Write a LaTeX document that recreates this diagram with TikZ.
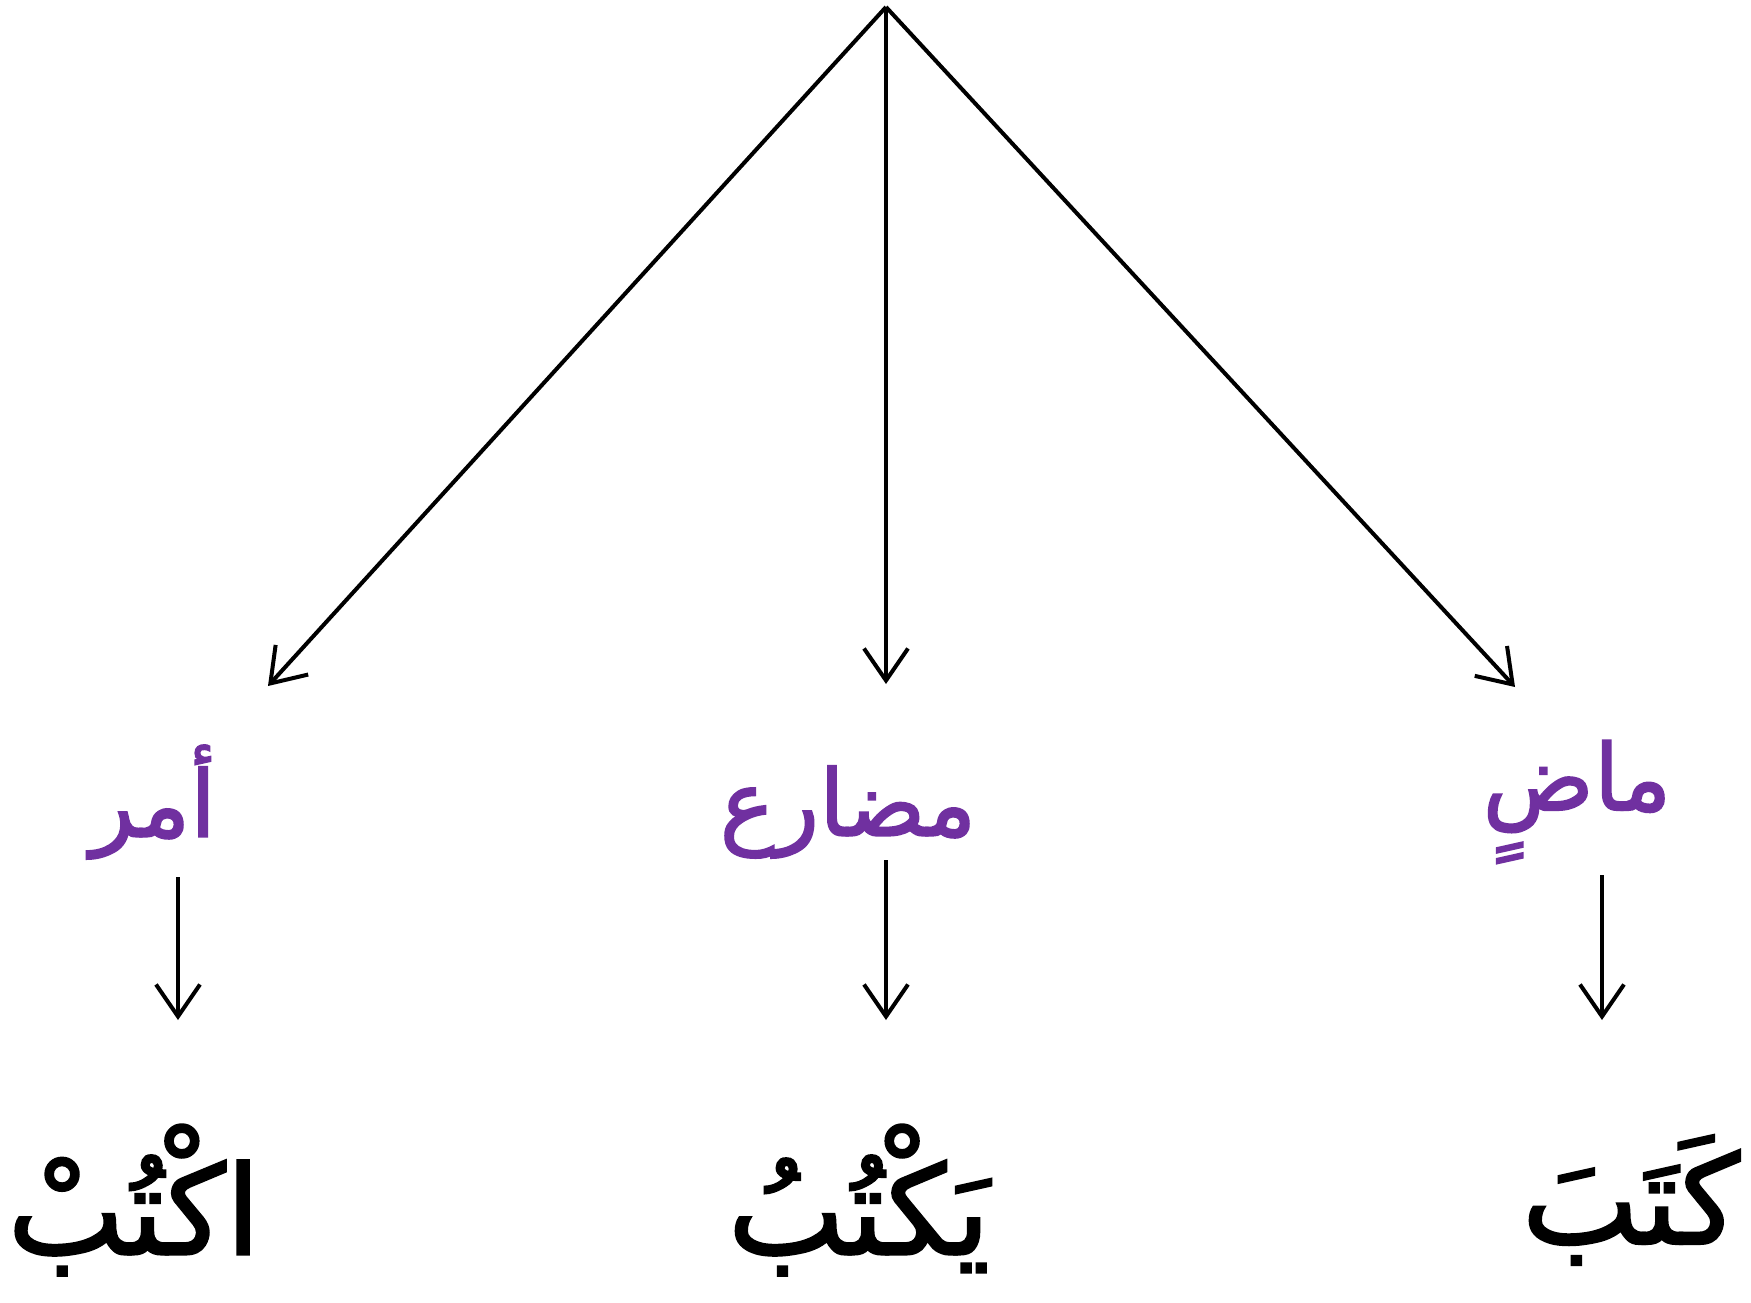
\documentclass[tikz,border=0pt]{standalone}
\usepackage{fontspec}
\usetikzlibrary{arrows.meta}
\TeXXeTstate=1
\newfontfamily\arabicfont[Script=Arabic]{DejaVu Sans}
\newfontfamily\arabicheavy[Script=Arabic,FakeBold=1.8]{DejaVu Sans}
\definecolor{labpurple}{HTML}{7030A0}
\tikzset{
  conn/.style={line width=2pt, -{Straight Barb[length=16pt,width=22pt,line width=2pt]}},
  catlabel/.style={font=\arabicheavy\fontsize{46}{50}\selectfont, text=labpurple, inner sep=0pt},
  verbword/.style={font=\arabicheavy\fontsize{62}{70}\selectfont, text=black, inner sep=0pt}
}
\begin{document}
\begin{tikzpicture}[x=0.5pt,y=-0.5pt]
\useasboundingbox (0,0) rectangle (1751,1302);
\fill[white] (0,0) rectangle (1751,1302);
% apex and big arrows
\coordinate (apex) at (886,7);
\coordinate (tipL) at (268,686);
\coordinate (tipM) at (886,684);
\coordinate (tipR) at (1515,687);
\draw[conn] (apex) -- (tipL);
\draw[conn] (apex) -- (tipM);
\draw[conn] (apex) -- (tipR);
% category labels
\node[catlabel] (amr) at (153,802) {\beginR أمر\endR};
\node[catlabel] (mudari) at (848,812) {\beginR مضارع\endR};
\node[catlabel] (madi) at (1577,802) {\beginR ماضٍ\endR};
% small arrows
\coordinate (sL) at (178,877);
\coordinate (eL) at (178,1020);
\coordinate (sM) at (886,860);
\coordinate (eM) at (886,1020);
\coordinate (sR) at (1602,875);
\coordinate (eR) at (1602,1020);
\draw[conn] (sL) -- (eL);
\draw[conn] (sM) -- (eM);
\draw[conn] (sR) -- (eR);
% verb forms
\node[verbword] (uktub) at (134,1200) {\beginR اكْتُبْ\endR};
\node[verbword] (yaktub) at (859,1200) {\beginR يَكْتُبُ\endR};
\node[verbword] (kataba) at (1631,1200) {\beginR كَتَبَ\endR};
\end{tikzpicture}
\end{document}
